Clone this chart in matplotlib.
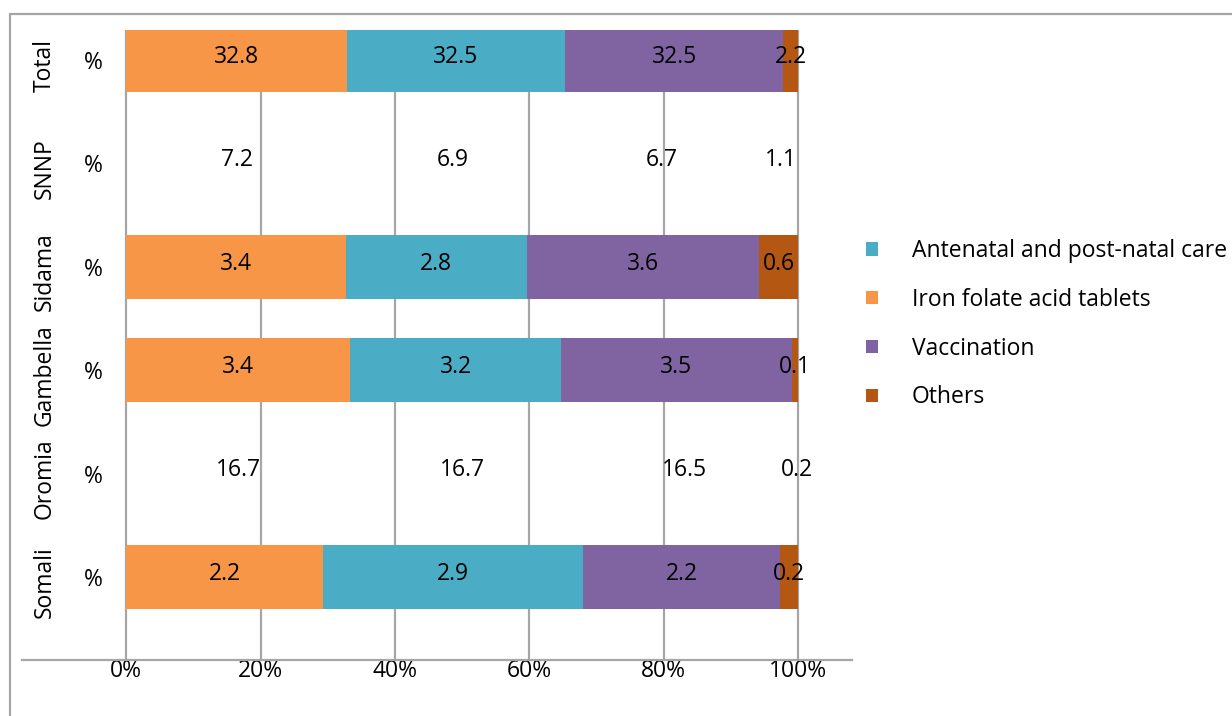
import numpy as np
import matplotlib.pyplot as plt
import matplotlib.transforms as mtransforms
from matplotlib.patches import Rectangle

# counts per region, stacked as 100% shares
regions = ['Total', 'SNNP', 'Sidama', 'Gambella', 'Oromia', 'Somali']
iron_folate = [32.8, 7.2, 3.4, 3.4, 16.7, 2.2]
antenatal = [32.5, 6.9, 2.8, 3.2, 16.7, 2.9]
vaccination = [32.5, 6.7, 3.6, 3.5, 16.5, 2.2]
others = [2.2, 1.1, 0.6, 0.1, 0.2, 0.2]
bar_drawn = [True, False, True, True, False, True]

series = [
    ('Iron folate acid tablets', iron_folate, '#F79646'),
    ('Antenatal and post-natal care', antenatal, '#4BACC6'),
    ('Vaccination', vaccination, '#8064A2'),
    ('Others', others, '#B45713'),
]
legend_order = ['Antenatal and post-natal care', 'Iron folate acid tablets',
                'Vaccination', 'Others']

plt.rcParams['font.family'] = ['Open Sans', 'DejaVu Sans']
plt.rcParams['font.size'] = 16.5

W, H = 1232, 716
fig = plt.figure(figsize=(W / 100, H / 100), dpi=100)
ax = fig.add_axes([108 / W, 1 - 660 / H, 744 / W, 630 / H])

vals = np.array([s[1] for s in series])
shares = vals / vals.sum(axis=0) * 100
lefts = np.vstack([np.zeros(len(regions)), np.cumsum(shares, axis=0)[:-1]])
y = np.arange(len(regions))
drawn = np.array(bar_drawn)

handles = {}
for k, (name, v, col) in enumerate(series):
    b = ax.barh(y[drawn], shares[k][drawn], left=lefts[k][drawn], height=0.62,
                color=col, label=name, zorder=2)
    handles[name] = b
    for i in range(len(regions)):
        ax.text(lefts[k][i] + shares[k][i] / 2, y[i] - 0.03, f'{v[i]:.1f}',
                ha='center', va='center', zorder=3)

ax.set_xlim(-2.7, 108)
ax.set_ylim(5.803, -0.29)
ax.set_xticks(np.arange(0, 101, 20))
ax.set_xticklabels([f'{t}%' for t in range(0, 101, 20)])
ax.set_yticks(y)
ax.set_yticklabels(['%'] * len(regions))
ax.tick_params(axis='both', length=0)
ax.tick_params(axis='x', pad=-1)
ax.tick_params(axis='y', pad=4)
ax.grid(axis='x', color='#A6A6A6', lw=1.6, zorder=0)
for sp in ax.spines.values():
    sp.set_visible(False)

# category axis line, running under the region labels
ax.plot([-0.116, 1.0], [0, 0], transform=ax.transAxes, color='#A6A6A6',
        lw=1.6, clip_on=False)

trans = mtransforms.blended_transform_factory(fig.transFigure, ax.transData)
for i, r in enumerate(regions):
    ax.text(45 / W, y[i] + 0.05, r, rotation=90, ha='center', va='center',
            transform=trans)

ax.legend([handles[n] for n in legend_order], legend_order,
          loc='upper left', bbox_to_anchor=(857 / W, 1 - 230 / H),
          bbox_transform=fig.transFigure, frameon=False,
          handlelength=0.5, handleheight=0.5, handletextpad=1.5,
          labelspacing=1.08, borderaxespad=0)

fig.patches.append(Rectangle((10 / W, -0.1), 1.2, 1.1 - 14 / H,
                             transform=fig.transFigure, fill=False,
                             edgecolor='#A6A6A6', lw=1.6))

fig.savefig('out.png', dpi=100)
